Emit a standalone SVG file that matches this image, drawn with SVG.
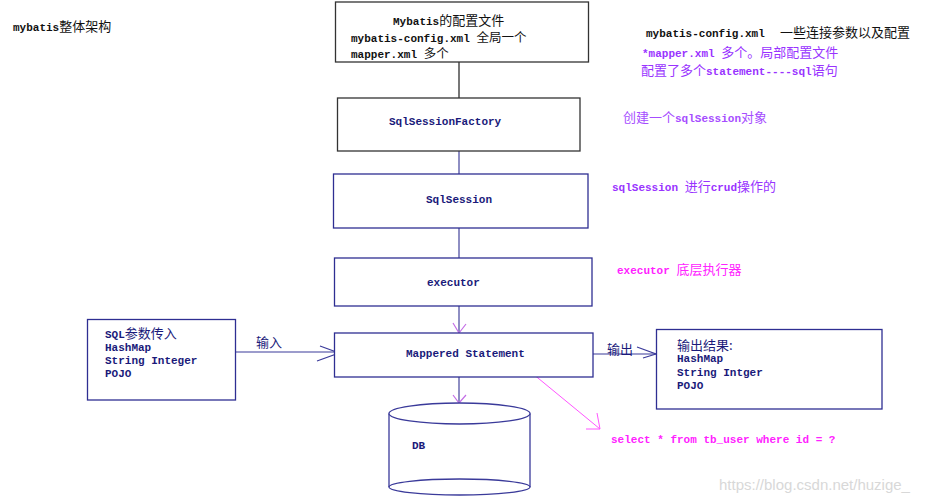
<svg xmlns="http://www.w3.org/2000/svg" width="930" height="499" viewBox="0 0 930 499">
<style>
text{font-family:"Liberation Mono","DejaVu Sans Mono","Noto Sans CJK SC",monospace;font-size:11px;font-weight:bold;}
.c{font-family:"Noto Sans CJK SC","Noto Sans CJK TC",sans-serif;font-size:13px;font-weight:normal;}
.navy{fill:#1a1a7a;}
.blk{fill:#111;}
.pur{fill:#9933ff;}
.pur2{fill:#a64dff;}
.mag{fill:#ff22ff;}
.box{fill:#fff;stroke:#2e2e92;stroke-width:1.3;}
.gbox{fill:#fff;stroke:#333;stroke-width:1.3;}
.ln{stroke:#7272b4;stroke-width:1.6;fill:none;}
.ah{stroke:#c46ee6;stroke-width:1.2;fill:none;}
.bl{stroke:#3a3a9a;stroke-width:1.2;fill:none;}
.pk{stroke:#ff55ff;stroke-width:1;fill:none;}
</style>
<rect width="930" height="499" fill="#fff"/>

<g id="title"><text x="13" y="31" class="blk">mybatis<tspan class="c">整体架构</tspan></text></g>

<g id="notes">
<text x="646" y="37" class="blk">mybatis-config.xml <tspan x="780" class="c">一些连接参数以及配置</tspan></text>
<text x="642" y="57" class="pur">*mapper.xml <tspan class="c">多个。局部配置文件</tspan></text>
<text x="641" y="75" class="pur"><tspan class="c">配置了多个</tspan>statement----sql<tspan class="c">语句</tspan></text>
<text x="623" y="122" class="pur2"><tspan class="c">创建一个</tspan>sqlSession<tspan class="c">对象</tspan></text>
<text x="612" y="191" class="pur">sqlSession <tspan class="c">进行</tspan>crud<tspan class="c">操作的</tspan></text>
<text x="617" y="274" class="mag">executor <tspan class="c">底层执行器</tspan></text>
<text x="611" y="443" class="mag">select * from tb_user where id = ?</text>
</g>

<g id="connectors">
<line x1="459" y1="62" x2="459" y2="98" stroke="#555" stroke-width="1.6"/>
<line x1="459" y1="151" x2="459" y2="174" class="ln"/>
<line x1="459" y1="228" x2="459" y2="258" class="ln"/>
<line x1="459" y1="306" x2="459" y2="333" class="ln"/>
<polyline points="453,323 459,333 466,324" class="ah"/>
<line x1="459" y1="377" x2="459" y2="404" class="ln"/>
<polyline points="453,395 459,403 466,395" class="ah"/>
<line x1="236" y1="352" x2="334" y2="352" class="bl"/>
<polyline points="320,346 339,353 317,361" class="bl"/>
<text x="256" y="347" class="c navy">输入</text>
<line x1="593" y1="354" x2="656" y2="354" class="bl"/>
<polyline points="637,347 656,354 643,358" class="bl"/>
<text x="607" y="354" class="c navy">输出</text>
<line x1="527" y1="369" x2="600" y2="429" class="pk"/>
<polyline points="597,413 600,429 586,429" class="pk"/>
<path d="M674,379 Q680,376 686,378 T698,377 T708,377" class="pk"/>
</g>

<g id="config">
<rect x="335.5" y="2" width="253" height="60" class="gbox"/>
<text x="393" y="25" class="blk">Mybatis<tspan class="c">的配置文件</tspan></text>
<text x="351" y="42" class="blk">mybatis-config.xml <tspan class="c" style="font-size:12.5px">全局一个</tspan></text>
<text x="351" y="58" class="blk">mapper.xml <tspan class="c" style="font-size:12.5px">多个</tspan></text>
</g>

<g id="factory">
<rect x="337.5" y="98" width="242.5" height="53" class="gbox"/>
<text x="389" y="125" class="navy">SqlSessionFactory</text>
</g>

<g id="session">
<rect x="333.5" y="174" width="254.5" height="54" class="box"/>
<text x="426" y="203" class="navy">SqlSession</text>
</g>

<g id="executor">
<rect x="334.5" y="258" width="257.5" height="48" class="box"/>
<text x="427" y="286" class="navy">executor</text>
</g>

<g id="mapped">
<rect x="334.5" y="333" width="258.5" height="44" class="box"/>
<text x="406" y="357" class="navy">Mappered Statement</text>
</g>

<g id="input">
<rect x="87.5" y="319.5" width="148" height="80.5" class="box"/>
<text x="105" y="338" class="navy">SQL<tspan class="c">参数传入</tspan></text>
<text x="105" y="351" class="navy">HashMap</text>
<text x="105" y="364" class="navy">String Integer</text>
<text x="105" y="377" class="navy">POJO</text>
</g>

<g id="output">
<rect x="656.5" y="329.5" width="225.5" height="79.5" class="box"/>
<text x="677" y="350" class="c navy">输出结果:</text>
<text x="677" y="362" class="navy">HashMap</text>
<text x="677" y="376" class="navy">String Intger</text>
<text x="677" y="389" class="navy">POJO</text>
</g>

<g id="db">
<path d="M389,413.5 V487 M530,413.5 V487" stroke="#3a3a9a" stroke-width="1.3" fill="none"/>
<ellipse cx="459.5" cy="487" rx="70.5" ry="8" fill="none" stroke="#3a3a9a" stroke-width="1.3"/>
<ellipse cx="459.5" cy="413.5" rx="70.5" ry="10.5" fill="#fff" stroke="#3a3a9a" stroke-width="1.3"/>
<text x="412" y="449" class="navy">DB</text>
</g>

<g id="watermark"><text x="719" y="490" style="font-family:'Liberation Sans',Arial,sans-serif;font-size:15px;font-weight:normal;fill:#d8d8d8">https://blog.csdn.net/huzige_</text></g>
</svg>
